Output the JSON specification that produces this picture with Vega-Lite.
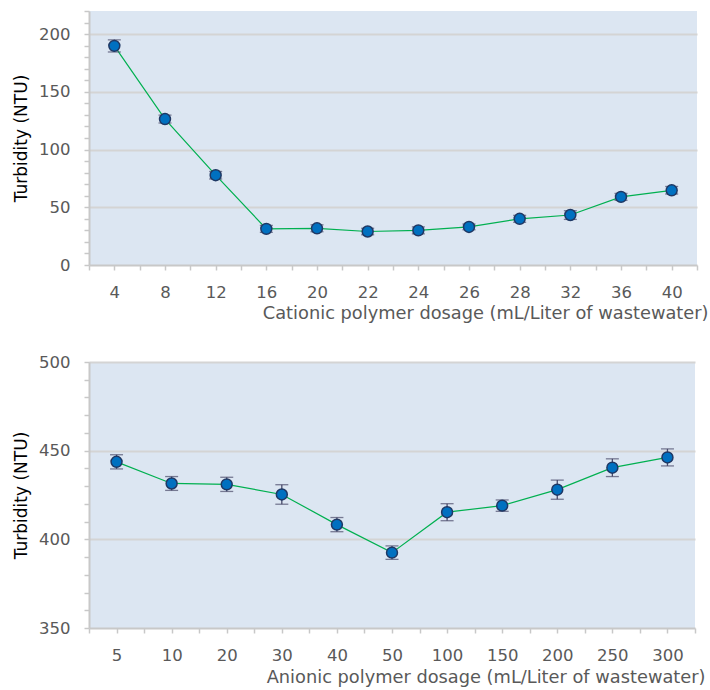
{
  "$schema": "https://vega.github.io/schema/vega-lite/v6.json",
  "padding": {"left": 12, "top": 3, "right": 0, "bottom": 0},
  "spacing": 31,
  "config": {
    "font": "DejaVu Sans",
    "view": {"fill": "#dce6f2", "stroke": null},
    "axis": {
      "domainColor": "#c8c8c8", "domainWidth": 2,
      "tickColor": "#c8c8c8", "tickWidth": 1.5, "tickSize": 5,
      "labelColor": "#595959", "labelFontSize": 16.5, "labelFont": "DejaVu Sans",
      "titleFont": "DejaVu Sans", "titleFontWeight": "normal",
      "gridColor": "#d4d4d4", "gridWidth": 2
    }
  },
  "datasets": {
    "cationic": [
      {"i": 1, "dose": "4", "t": 189.8, "lo": 184.5, "hi": 195.0},
      {"i": 2, "dose": "8", "t": 126.4, "lo": 123.0, "hi": 129.8},
      {"i": 3, "dose": "12", "t": 77.8, "lo": 74.5, "hi": 81.0},
      {"i": 4, "dose": "16", "t": 31.3, "lo": 28.3, "hi": 34.3},
      {"i": 5, "dose": "20", "t": 31.8, "lo": 28.8, "hi": 34.8},
      {"i": 6, "dose": "22", "t": 29.0, "lo": 26.2, "hi": 31.8},
      {"i": 7, "dose": "24", "t": 30.0, "lo": 27.0, "hi": 33.0},
      {"i": 8, "dose": "26", "t": 33.0, "lo": 30.5, "hi": 35.5},
      {"i": 9, "dose": "28", "t": 40.0, "lo": 37.0, "hi": 43.0},
      {"i": 10, "dose": "32", "t": 43.3, "lo": 39.5, "hi": 47.0},
      {"i": 11, "dose": "36", "t": 59.0, "lo": 56.0, "hi": 62.0},
      {"i": 12, "dose": "40", "t": 64.7, "lo": 61.5, "hi": 68.0}
    ],
    "anionic": [
      {"i": 1, "dose": "5", "t": 443.7, "lo": 439.7, "hi": 447.7},
      {"i": 2, "dose": "10", "t": 431.5, "lo": 427.6, "hi": 435.4},
      {"i": 3, "dose": "20", "t": 431.0, "lo": 427.0, "hi": 435.0},
      {"i": 4, "dose": "30", "t": 425.3, "lo": 419.8, "hi": 430.8},
      {"i": 5, "dose": "40", "t": 408.3, "lo": 404.3, "hi": 412.3},
      {"i": 6, "dose": "50", "t": 392.5, "lo": 388.7, "hi": 396.3},
      {"i": 7, "dose": "100", "t": 415.3, "lo": 410.5, "hi": 420.1},
      {"i": 8, "dose": "150", "t": 419.0, "lo": 415.8, "hi": 422.2},
      {"i": 9, "dose": "200", "t": 428.0, "lo": 422.6, "hi": 433.4},
      {"i": 10, "dose": "250", "t": 440.4, "lo": 435.4, "hi": 445.4},
      {"i": 11, "dose": "300", "t": 446.2, "lo": 441.4, "hi": 451.0}
    ]
  },
  "vconcat": [
    {
      "width": 608, "height": 254,
      "data": {"name": "cationic"},
      "encoding": {
        "x": {"field": "i", "type": "quantitative",
          "scale": {"domain": [0.5, 12.5], "nice": false, "zero": false},
          "axis": {"values": [0.5,1,1.5,2,2.5,3,3.5,4,4.5,5,5.5,6,6.5,7,7.5,8,8.5,9,9.5,10,10.5,11,11.5,12,12.5],
            "labelExpr": "datum.value % 1 === 0 ? ['4','8','12','16','20','22','24','26','28','32','36','40'][datum.value-1] : ''",
            "grid": false, "labelPadding": 14, "labelFlush": false, "labelOverlap": false,
            "title": "Cationic polymer dosage (mL/Liter of wastewater)",
            "titleFontSize": 17.8, "titleColor": "#595959", "titlePadding": 4,
            "titleAlign": "right", "titleX": 619}},
        "y": {"field": "t", "type": "quantitative",
          "scale": {"domain": [0, 220], "nice": false},
          "axis": {"values": [0,10,20,30,40,50,60,70,80,90,100,110,120,130,140,150,160,170,180,190,200,210,220],
            "labelExpr": "datum.value % 50 === 0 ? datum.label : ''",
            "gridOpacity": {"condition": {"test": "datum.value % 50 === 0 && datum.value > 0", "value": 1}, "value": 0},
            "labelPadding": 14, "labelOverlap": false,
            "title": "Turbidity (NTU)", "titleFontSize": 17, "titleColor": "#000000", "titlePadding": 8}}
      },
      "layer": [
        {"mark": {"type": "line", "color": "#00b050", "strokeWidth": 1.2}},
        {"mark": {"type": "rule", "color": "#4a4a6a", "strokeWidth": 1.3}, "encoding": {"y": {"field": "lo", "type": "quantitative"}, "y2": {"field": "hi"}}},
        {"mark": {"type": "tick", "color": "#4a4a6a", "thickness": 1.3, "size": 13, "orient": "horizontal"}, "encoding": {"y": {"field": "lo", "type": "quantitative"}}},
        {"mark": {"type": "tick", "color": "#4a4a6a", "thickness": 1.3, "size": 13, "orient": "horizontal"}, "encoding": {"y": {"field": "hi", "type": "quantitative"}}},
        {"mark": {"type": "point", "filled": true, "fill": "#0070c0", "stroke": "#1f3864", "strokeWidth": 1.5, "size": 120, "opacity": 1}}
      ]
    },
    {
      "width": 606, "height": 266,
      "data": {"name": "anionic"},
      "encoding": {
        "x": {"field": "i", "type": "quantitative",
          "scale": {"domain": [0.5, 11.5], "nice": false, "zero": false},
          "axis": {"values": [0.5,1,1.5,2,2.5,3,3.5,4,4.5,5,5.5,6,6.5,7,7.5,8,8.5,9,9.5,10,10.5,11,11.5],
            "labelExpr": "datum.value % 1 === 0 ? ['5','10','20','30','40','50','100','150','200','250','300'][datum.value-1] : ''",
            "grid": false, "labelPadding": 14, "labelFlush": false, "labelOverlap": false,
            "title": "Anionic polymer dosage (mL/Liter of wastewater)",
            "titleFontSize": 17.8, "titleColor": "#595959", "titlePadding": 5,
            "titleAlign": "right", "titleX": 616}},
        "y": {"field": "t", "type": "quantitative",
          "scale": {"domain": [350, 500], "nice": false, "zero": false},
          "axis": {"values": [350,360,370,380,390,400,410,420,430,440,450,460,470,480,490,500],
            "labelExpr": "datum.value % 50 === 0 ? datum.label : ''",
            "gridOpacity": {"condition": {"test": "datum.value % 50 === 0 && datum.value > 350", "value": 1}, "value": 0},
            "labelPadding": 14, "labelOverlap": false,
            "title": "Turbidity (NTU)", "titleFontSize": 17, "titleColor": "#000000", "titlePadding": 8}}
      },
      "layer": [
        {"mark": {"type": "line", "color": "#00b050", "strokeWidth": 1.2}},
        {"mark": {"type": "rule", "color": "#4a4a6a", "strokeWidth": 1.3}, "encoding": {"y": {"field": "lo", "type": "quantitative"}, "y2": {"field": "hi"}}},
        {"mark": {"type": "tick", "color": "#4a4a6a", "thickness": 1.3, "size": 13, "orient": "horizontal"}, "encoding": {"y": {"field": "lo", "type": "quantitative"}}},
        {"mark": {"type": "tick", "color": "#4a4a6a", "thickness": 1.3, "size": 13, "orient": "horizontal"}, "encoding": {"y": {"field": "hi", "type": "quantitative"}}},
        {"mark": {"type": "point", "filled": true, "fill": "#0070c0", "stroke": "#1f3864", "strokeWidth": 1.5, "size": 120, "opacity": 1}}
      ]
    }
  ]
}
